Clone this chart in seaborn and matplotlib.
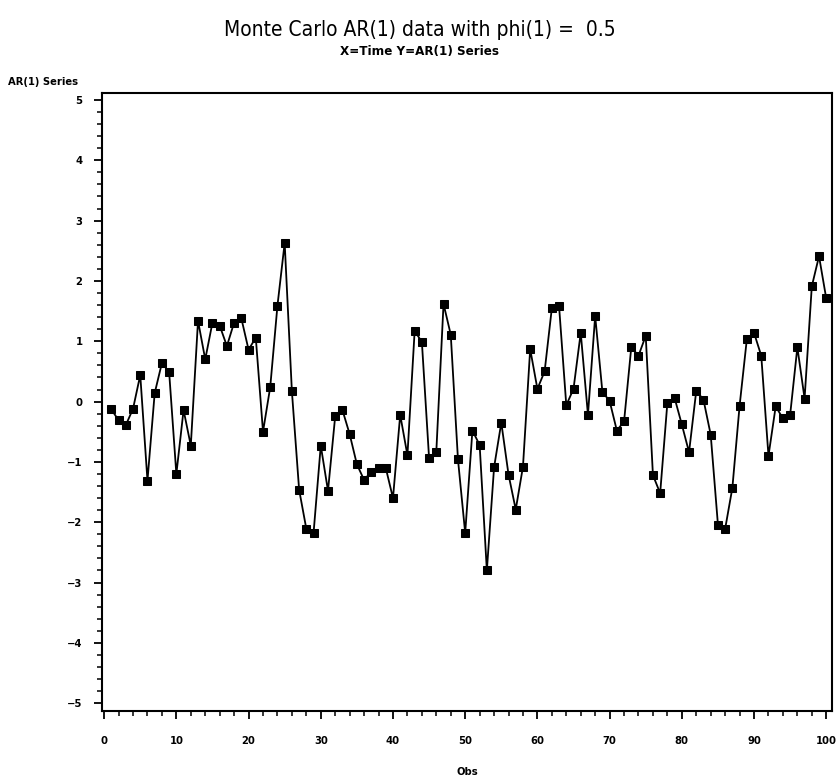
import numpy as np
import pandas as pd
import matplotlib
matplotlib.use("Agg")
import matplotlib.pyplot as plt
import seaborn as sns
from matplotlib.ticker import MultipleLocator

# ---- data ----
obs = list(range(1, 101))
ar1_series = [
    -0.13, -0.31, -0.39, -0.12, 0.44, -1.31, 0.14, 0.64, 0.49, -1.20,
    -0.14, -0.73, 1.34, 0.70, 1.31, 1.26, 0.92, 1.31, 1.38, 0.86,
    1.06, -0.50, 0.24, 1.59, 2.63, 0.17, -1.46, -2.11, -2.18, -0.73,
    -1.48, -0.24, -0.14, -0.54, -1.04, -1.30, -1.16, -1.10, -1.10, -1.60,
    -0.22, -0.89, 1.17, 0.99, -0.94, -0.83, 1.62, 1.11, -0.96, -2.18,
    -0.48, -0.72, -2.80, -1.09, -0.35, -1.21, -1.79, -1.08, 0.87, 0.21,
    0.50, 1.55, 1.58, -0.06, 0.21, 1.14, -0.22, 1.42, 0.16, 0.01,
    -0.48, -0.33, 0.90, 0.76, 1.09, -1.22, -1.52, -0.02, 0.06, -0.38,
    -0.84, 0.18, 0.03, -0.55, -2.04, -2.11, -1.43, -0.07, 1.03, 1.14,
    0.76, -0.90, -0.08, -0.28, -0.22, 0.90, 0.05, 1.91, 2.41, 1.71,
]
x_ticks = list(range(0, 101, 10))
y_ticks = list(range(-5, 6))

df = pd.DataFrame({"Obs": obs, "AR1": ar1_series})

sns.set_style("ticks")
plt.rcParams["font.family"] = ["DejaVu Sans"]
plt.rcParams["font.stretch"] = "condensed"
for key in ["text.color", "axes.labelcolor", "xtick.color", "ytick.color"]:
    plt.rcParams[key] = "black"

fig = plt.figure(figsize=(8.4, 7.78), dpi=100)
ax = fig.add_axes([0.1214, 0.0861, 0.8691, 0.7947])

sns.lineplot(data=df, x="Obs", y="AR1", ax=ax, color="black", linewidth=1.3,
             marker="s", markersize=5.5, markeredgecolor="black",
             markerfacecolor="black")

ax.set_xlim(-0.3, 100.8)
ax.set_ylim(-5.13, 5.12)
ax.set_xticks(x_ticks)
ax.set_yticks(y_ticks)
ax.xaxis.set_minor_locator(MultipleLocator(2))
ax.yaxis.set_minor_locator(MultipleLocator(0.2))
ax.tick_params(axis="both", which="major", direction="out", length=6,
               width=1.3, color="black", labelsize=8, pad=12)
ax.tick_params(axis="y", which="major", pad=8)
ax.tick_params(axis="both", which="minor", direction="out", length=3.5,
               width=1.1, color="black")
for lab in ax.get_xticklabels() + ax.get_yticklabels():
    lab.set_fontweight("bold")

for s in ax.spines.values():
    s.set_visible(True)
    s.set_linewidth(1.5)
    s.set_color("black")

ax.set_xlabel("Obs", fontsize=8, fontweight="bold", labelpad=15)
ax.set_ylabel("")
fig.text(0.009, 0.888, "AR(1) Series", fontsize=8, fontweight="bold",
         ha="left", va="bottom")

fig.text(0.5, 0.961, "Monte Carlo AR(1) data with phi(1) =  0.5",
         fontsize=15, ha="center", va="center")
fig.text(0.5, 0.934, "X=Time Y=AR(1) Series", fontsize=9.5,
         fontweight="bold", ha="center", va="center")

fig.savefig("out.png", dpi=100, facecolor="white")
